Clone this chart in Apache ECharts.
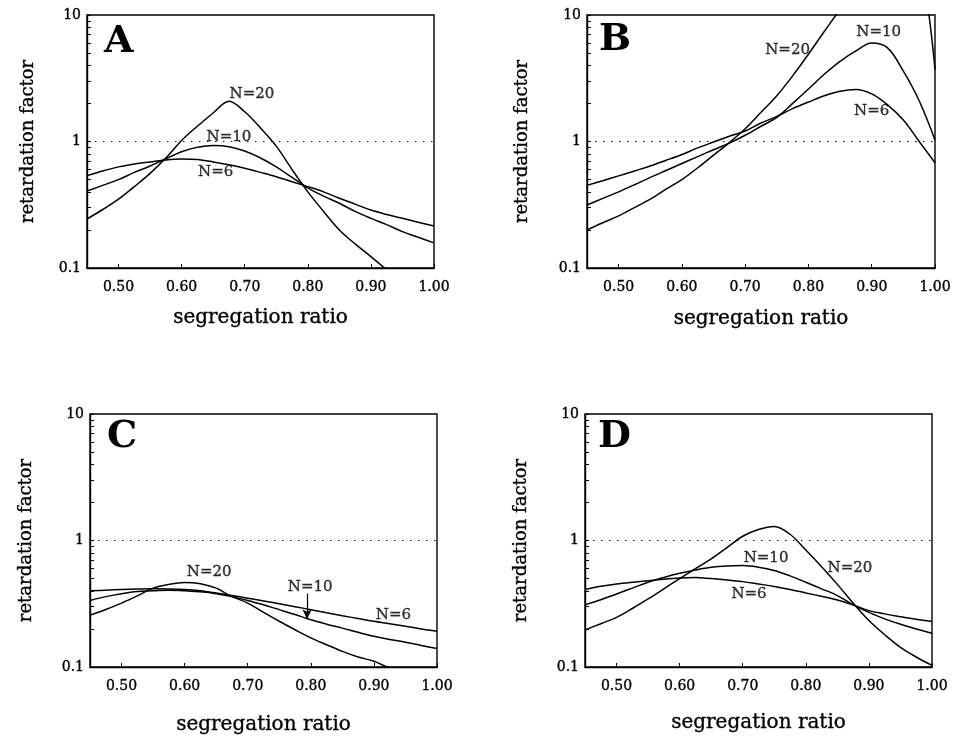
<!DOCTYPE html>
<html><head><meta charset="utf-8">
<script src="https://cdn.jsdelivr.net/npm/echarts@6/dist/echarts.min.js"></script>
<style>html,body{margin:0;padding:0;background:#fff}#c{width:959px;height:737px}</style>
</head><body><div id="c"></div>
<script>
// ---- data ----
const ratio = [0.45,0.475,0.50,0.525,0.55,0.575,0.60,0.625,0.65,0.675,0.70,0.725,0.75,0.775,0.80,0.825,0.85,0.875,0.90,0.925,0.95,0.975,1.00];
const xTickValues = [0.5,0.6,0.7,0.8,0.9,1.0];
const yLabelValues = [0.1,1,10];
const yTickValues = [0.1,0.2,0.3,0.4,0.5,0.6,0.7,0.8,0.9,1,2,3,4,5,6,7,8,9,10];
const panelLetters = ['A','B','C','D'];
const curveNames = ['N=6','N=10','N=20'];

const A_N6  = [0.537,0.585,0.63,0.665,0.69,0.715,0.727,0.72,0.69,0.655,0.614,0.57,0.527,0.48,0.44,0.40,0.356,0.32,0.287,0.265,0.247,0.23,0.215];
const A_N10 = [0.406,0.45,0.50,0.57,0.64,0.73,0.83,0.90,0.93,0.91,0.84,0.74,0.63,0.52,0.43,0.37,0.325,0.28,0.247,0.22,0.194,0.175,0.158];
const A_N20 = [0.244,0.29,0.35,0.44,0.56,0.74,1.02,1.32,1.68,2.08,1.72,1.28,0.92,0.60,0.40,0.28,0.20,0.155,0.123,0.097,0.078,0.063,0.05];

const B_N6  = [0.45,0.49,0.535,0.585,0.64,0.71,0.79,0.89,0.99,1.10,1.21,1.40,1.58,1.82,2.05,2.3,2.5,2.58,2.38,1.95,1.48,1.0,0.68];
const B_N10 = [0.315,0.355,0.40,0.455,0.52,0.59,0.67,0.76,0.86,0.97,1.12,1.32,1.55,2.0,2.6,3.4,4.3,5.2,6.0,5.5,3.6,2.1,1.03];
const B_N20 = [0.20,0.228,0.258,0.30,0.35,0.42,0.50,0.62,0.78,0.98,1.26,1.7,2.3,3.3,4.9,7.4,11,15,22,30,36,28,3.7];

const C_N6  = [0.40,0.405,0.41,0.413,0.415,0.414,0.41,0.40,0.384,0.367,0.35,0.333,0.316,0.30,0.284,0.268,0.254,0.242,0.23,0.22,0.21,0.20,0.192];
const C_N10 = [0.336,0.36,0.38,0.395,0.40,0.405,0.40,0.393,0.38,0.36,0.336,0.31,0.284,0.26,0.236,0.218,0.203,0.188,0.175,0.165,0.157,0.148,0.14];
const C_N20 = [0.257,0.285,0.32,0.365,0.42,0.45,0.466,0.455,0.42,0.36,0.32,0.27,0.23,0.197,0.17,0.15,0.133,0.12,0.111,0.098,0.09,0.082,0.075];

const D_N6  = [0.41,0.435,0.454,0.468,0.48,0.495,0.506,0.51,0.50,0.488,0.473,0.453,0.433,0.41,0.385,0.362,0.339,0.31,0.279,0.263,0.25,0.238,0.229];
const D_N10 = [0.31,0.34,0.378,0.42,0.468,0.51,0.55,0.585,0.615,0.63,0.634,0.615,0.579,0.525,0.468,0.415,0.367,0.31,0.27,0.24,0.218,0.20,0.185];
const D_N20 = [0.196,0.22,0.247,0.29,0.345,0.415,0.50,0.60,0.716,0.88,1.08,1.22,1.29,1.12,0.84,0.62,0.45,0.32,0.233,0.18,0.143,0.12,0.103];

const panelCurves = [[A_N6,A_N10,A_N20],[B_N6,B_N10,B_N20],[C_N6,C_N10,C_N20],[D_N6,D_N10,D_N20]];

// curve annotations: [text, x, y] in data units
const notesA = [['N=20',0.7115,2.37],['N=10',0.675,1.085],['N=6',0.654,0.574]];
const notesB = [['N=20',0.767,5.25],['N=10',0.911,7.3],['N=6',0.900,1.73]];
const notesC = [['N=20',0.639,0.561],['N=10',0.799,0.431],['N=6',0.931,0.259]];
const notesD = [['N=10',0.737,0.724],['N=20',0.870,0.609],['N=6',0.710,0.376]];
const panelNotes = [notesA,notesB,notesC,notesD];
const arrowC = [[0.794,0.38],[0.794,0.238]];

// ---- layout ----
const grids = [
  {left:87, top:15, width:347, height:253},
  {left:587, top:15, width:348, height:253},
  {left:90, top:414, width:347, height:253},
  {left:585, top:414, width:347, height:253}
];
const xNameGap = [40,41,48,46];
const yNameGap = [50,56,55,55];
const letterPos = [[104,23],[599,21],[107,418],[598,418]];
const SERIF = '"DejaVu Serif", "Liberation Serif", serif';
const INK = {color:'#000', textBorderColor:'#000', textBorderWidth:0.35};

const option = {
  animation:false,
  backgroundColor:'#fff',
  title: panelLetters.map((t,i)=>({text:t,left:letterPos[i][0],top:letterPos[i][1],padding:0,
    textStyle:{fontFamily:SERIF,fontWeight:'bold',fontSize:38,color:'#000'}})),
  grid: grids.map(g=>Object.assign({show:true,borderColor:'#000',borderWidth:1.4,backgroundColor:'transparent'},g)),
  xAxis: grids.map((g,i)=>({
    type:'value', gridIndex:i, min:0.45, max:1.0,
    name:'segregation ratio', nameLocation:'middle', nameGap:xNameGap[i],
    nameTextStyle:Object.assign({fontFamily:SERIF,fontSize:20},INK),
    axisLine:{show:true,lineStyle:{color:'#000',width:1.4}},
    axisTick:{show:true,inside:true,length:4,customValues:xTickValues,lineStyle:{color:'#000',width:1}},
    axisLabel:Object.assign({show:true,customValues:xTickValues,margin:12,fontFamily:SERIF,fontSize:14,
      formatter:v=>Number(v).toFixed(2)},INK),
    splitLine:{show:false}
  })),
  yAxis: grids.map((g,i)=>({
    type:'log', logBase:10, gridIndex:i, min:0.1, max:10,
    name:'retardation factor', nameLocation:'middle', nameGap:yNameGap[i], nameRotate:90,
    nameTextStyle:Object.assign({fontFamily:SERIF,fontSize:18},INK),
    axisLine:{show:true,lineStyle:{color:'#000',width:1.4}},
    axisTick:{show:true,inside:true,length:4,customValues:yTickValues,lineStyle:{color:'#000',width:1}},
    axisLabel:Object.assign({show:true,customValues:yLabelValues,margin:6,fontFamily:SERIF,fontSize:14,
      formatter:v=>String(Math.round(v*10)/10)},INK),
    splitLine:{show:false}, minorTick:{show:false}
  })),
  series: []
};

panelCurves.forEach((curves,p)=>{
  curves.forEach((vals,k)=>{
    const s = {
      type:'line', name:panelLetters[p]+' '+curveNames[k], xAxisIndex:p, yAxisIndex:p,
      data: ratio.map((x,i)=>[x, vals[i]]),
      showSymbol:false, symbol:'none', smooth:0.35, clip:true,
      lineStyle:{color:'#000',width:1.5}, z:3
    };
    if(k===0){
      s.markLine = {silent:true, symbol:['none','none'], label:{show:false},
        lineStyle:{color:'#000',width:1.2,type:[1.4,6.6]},
        data:[{yAxis:1}]};
    }
    if(p===2 && k===1){
      s.markLine = {silent:true, symbol:['none','arrow'], symbolSize:[7,10], label:{show:false},
        lineStyle:{color:'#000',width:1.2,type:'solid'},
        data:[[{coord:arrowC[0]},{coord:arrowC[1]}]]};
    }
    option.series.push(s);
  });
  option.series.push({
    type:'scatter', xAxisIndex:p, yAxisIndex:p, symbolSize:1,
    itemStyle:{color:'rgba(0,0,0,0)'}, silent:true, z:5,
    data: panelNotes[p].map(n=>[n[1],n[2],n[0]]),
    label:Object.assign({show:true,position:'inside',formatter:q=>q.value[2],fontFamily:SERIF,fontSize:15},INK)
  });
});

const chart = echarts.init(document.getElementById('c'), null, {renderer:'canvas'});
chart.setOption(option);
</script></body></html>
